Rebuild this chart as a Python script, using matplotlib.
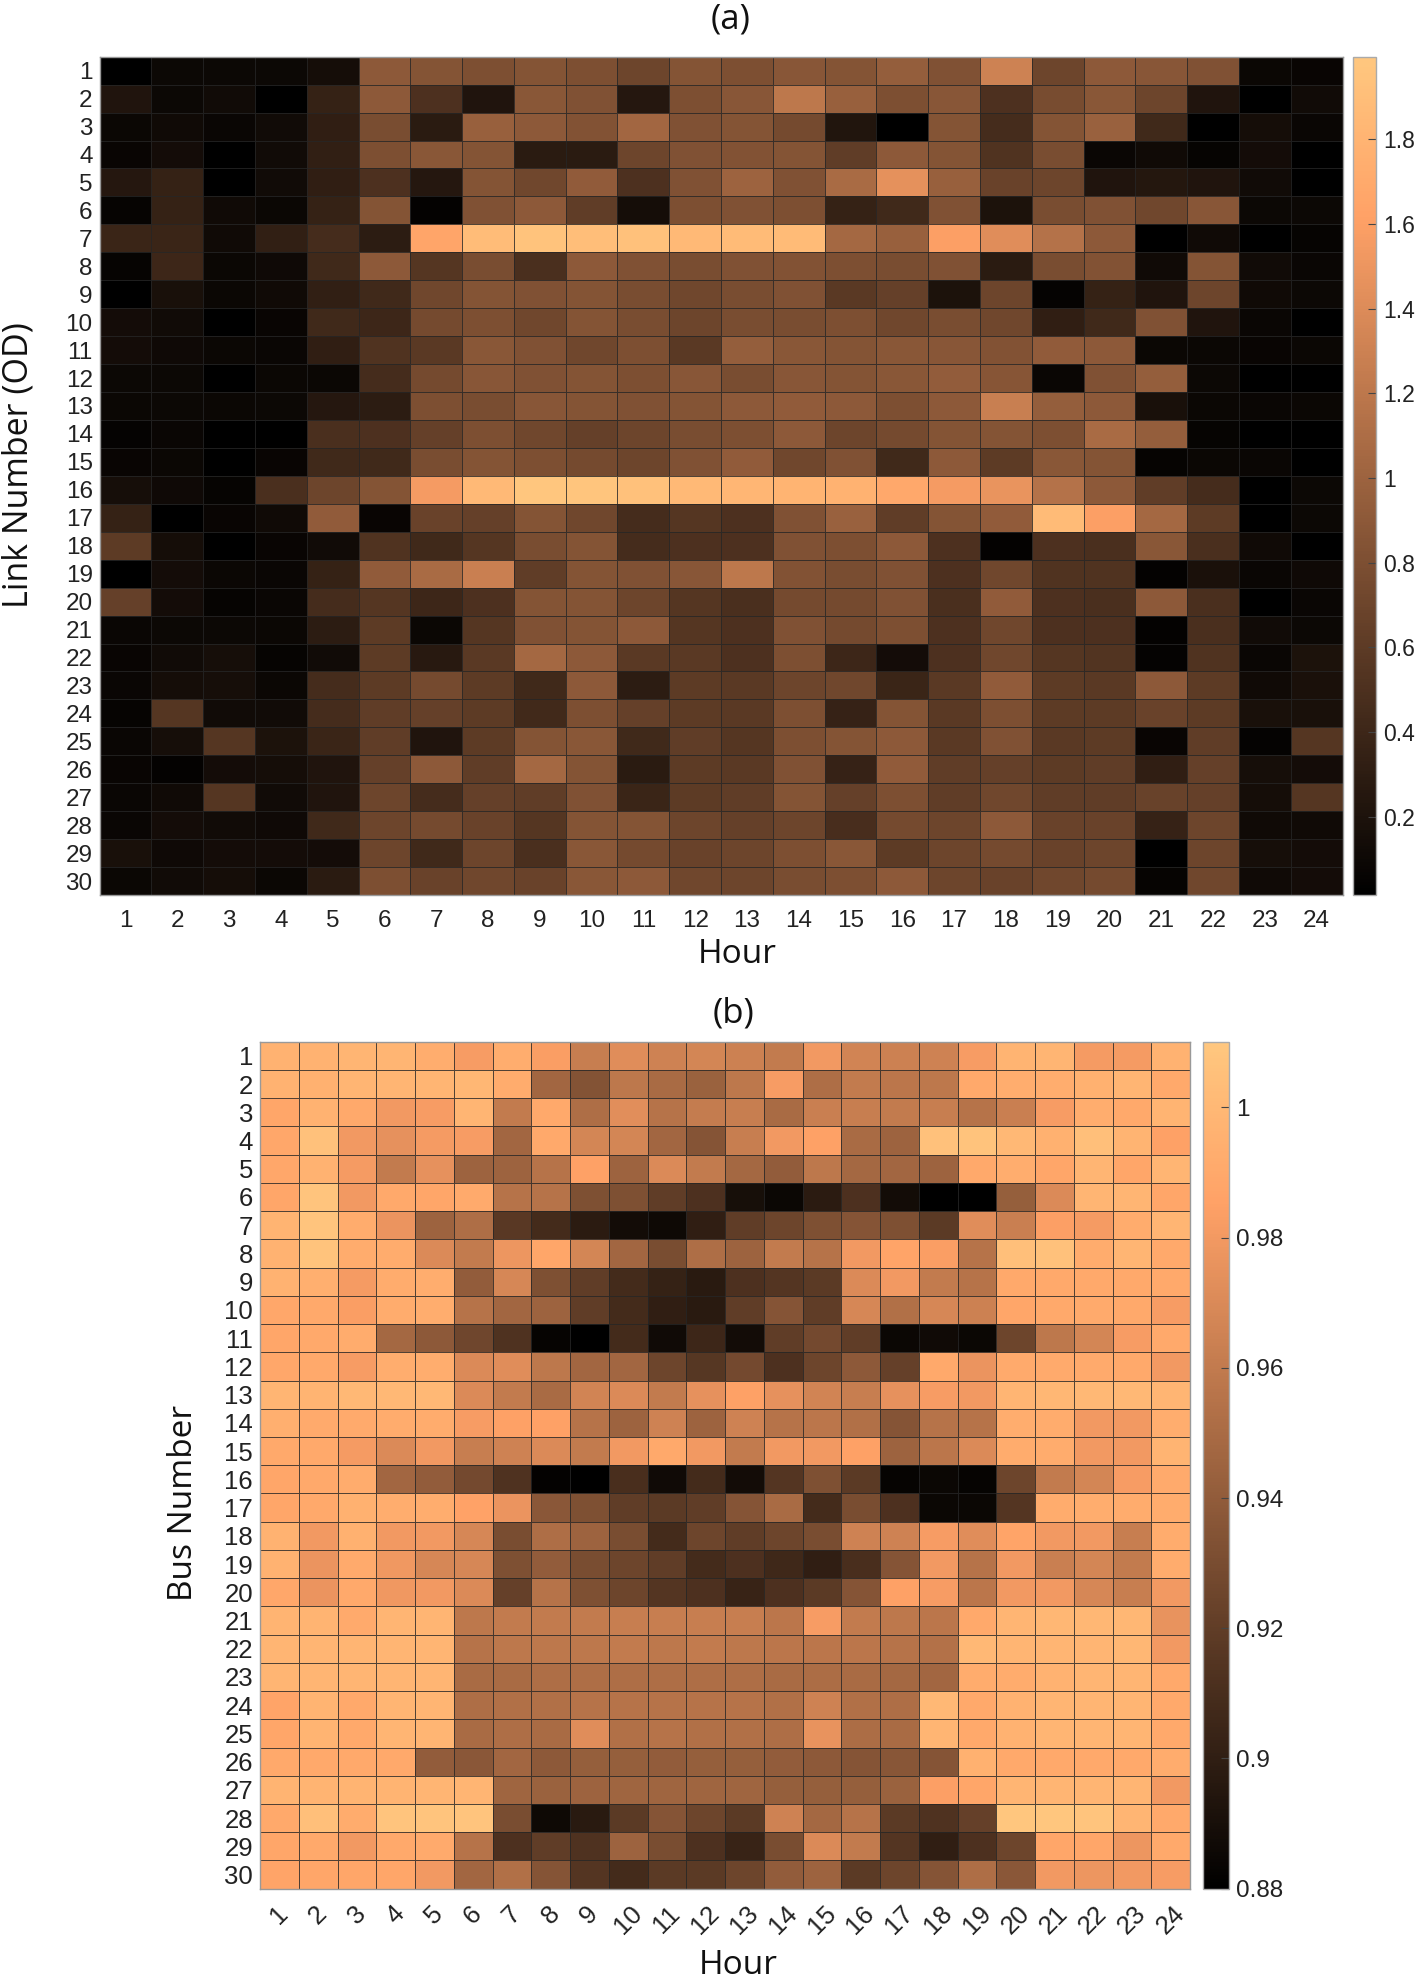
import numpy as np
import matplotlib
matplotlib.use("Agg")
import matplotlib.pyplot as plt

W, H = 1416, 1978

hours = [str(h) for h in range(1, 25)]
links = [str(i) for i in range(1, 31)]
buses = [str(i) for i in range(1, 31)]

# (a) link flow, one row per link number, 24 hours
link_flow = [
    [.02,.1,.1,.1,.15,.9,.85,.8,.85,.8,.7,.85,.8,.87,.85,.95,.82,1.3,.7,.9,.87,.82,.09,.07],
    [.22,.1,.13,.02,.35,.9,.5,.22,.88,.82,.25,.8,.87,1.2,.97,.8,.87,.5,.77,.88,.7,.22,.02,.13],
    [.09,.12,.08,.13,.32,.78,.28,.97,.9,.83,1.03,.82,.85,.75,.23,.02,.85,.45,.85,.98,.42,.02,.15,.08],
    [.07,.14,.02,.13,.33,.8,.88,.85,.28,.28,.7,.82,.83,.85,.62,.9,.85,.52,.78,.08,.12,.06,.14,.02],
    [.25,.35,.02,.13,.32,.5,.25,.85,.72,.92,.5,.82,1.0,.82,1.08,1.45,.97,.68,.7,.22,.24,.22,.13,.02],
    [.06,.35,.12,.09,.35,.85,.04,.82,.9,.62,.15,.8,.82,.8,.35,.42,.82,.2,.78,.82,.72,.87,.1,.1],
    [.38,.38,.12,.33,.45,.3,1.65,1.88,1.95,1.9,1.93,1.85,1.87,1.87,1.05,.97,1.6,1.42,1.15,.9,.02,.12,.02,.06],
    [.06,.4,.09,.11,.42,.9,.55,.78,.48,.9,.82,.78,.82,.83,.8,.78,.82,.28,.78,.83,.12,.85,.13,.08],
    [.02,.17,.09,.12,.33,.42,.72,.85,.82,.85,.78,.72,.78,.82,.58,.65,.2,.7,.05,.35,.22,.7,.12,.1],
    [.14,.13,.02,.07,.42,.4,.75,.8,.72,.85,.78,.7,.78,.78,.8,.72,.78,.72,.32,.42,.82,.22,.08,.02],
    [.14,.11,.09,.08,.32,.52,.58,.88,.82,.72,.8,.58,.95,.88,.85,.88,.87,.83,.92,.9,.09,.09,.07,.09],
    [.1,.1,.02,.09,.09,.45,.75,.87,.82,.85,.8,.87,.78,.87,.85,.88,.93,.86,.08,.82,.95,.1,.02,.02],
    [.09,.1,.09,.1,.25,.3,.8,.78,.87,.85,.82,.85,.9,.92,.9,.8,.9,1.27,.95,.9,.17,.09,.08,.09],
    [.05,.08,.02,.02,.48,.5,.65,.8,.72,.65,.7,.78,.8,.9,.7,.75,.85,.85,.8,1.08,.95,.06,.02,.02],
    [.07,.09,.02,.07,.42,.42,.78,.85,.8,.75,.7,.82,.92,.72,.82,.42,.9,.6,.88,.85,.06,.09,.08,.02],
    [.16,.11,.06,.48,.7,.85,1.55,1.85,1.98,1.97,1.93,1.85,1.82,1.8,1.78,1.68,1.55,1.48,1.15,.9,.62,.45,.02,.1],
    [.35,.02,.07,.12,.92,.07,.68,.65,.85,.72,.45,.55,.5,.82,.98,.62,.85,.92,1.87,1.6,1.05,.6,.02,.1],
    [.6,.15,.02,.07,.13,.52,.42,.55,.78,.85,.45,.5,.5,.82,.8,.9,.5,.04,.5,.48,.88,.48,.12,.02],
    [.02,.14,.09,.08,.35,.92,1.08,1.28,.62,.85,.82,.87,1.2,.83,.78,.82,.5,.72,.52,.52,.04,.18,.08,.11],
    [.65,.14,.06,.08,.45,.55,.4,.5,.85,.85,.7,.55,.48,.75,.75,.82,.48,.92,.5,.48,.9,.48,.02,.08],
    [.08,.1,.1,.09,.3,.6,.09,.55,.82,.85,.9,.55,.5,.82,.75,.8,.5,.72,.5,.5,.04,.48,.13,.1],
    [.07,.13,.16,.06,.13,.6,.27,.58,1.05,.9,.58,.58,.5,.8,.4,.14,.5,.72,.55,.53,.05,.52,.08,.2],
    [.08,.15,.16,.09,.45,.6,.75,.6,.42,.9,.3,.6,.58,.7,.72,.38,.58,.92,.6,.58,.9,.6,.12,.18],
    [.06,.55,.13,.13,.45,.62,.65,.6,.43,.8,.65,.6,.58,.8,.36,.85,.58,.8,.6,.6,.68,.6,.17,.17],
    [.08,.16,.55,.2,.38,.62,.22,.6,.85,.88,.42,.62,.55,.8,.85,.9,.58,.82,.58,.6,.07,.62,.05,.55],
    [.07,.04,.14,.15,.22,.65,.9,.62,1.05,.85,.28,.6,.58,.82,.36,.92,.62,.65,.6,.62,.32,.65,.16,.14],
    [.08,.12,.55,.13,.22,.7,.45,.65,.62,.82,.38,.6,.62,.85,.65,.8,.62,.72,.62,.62,.67,.65,.15,.55],
    [.08,.14,.13,.11,.42,.7,.75,.68,.55,.85,.85,.7,.65,.7,.47,.75,.7,.9,.68,.68,.36,.7,.12,.12],
    [.17,.11,.14,.14,.14,.7,.42,.7,.48,.88,.75,.68,.7,.8,.88,.6,.7,.75,.68,.7,.02,.7,.16,.14],
    [.09,.13,.15,.09,.28,.8,.68,.72,.68,.88,.9,.72,.7,.78,.8,.9,.7,.68,.72,.75,.06,.72,.12,.14],
]

# (b) bus voltage, one row per bus number, 24 hours
bus_voltage = [
    [.996,.996,.998,.998,.993,.982,.993,.983,.962,.972,.965,.967,.964,.96,.98,.966,.964,.965,.982,.997,.998,.981,.981,.996],
    [.996,.995,.998,.998,.998,.999,.992,.947,.934,.958,.95,.944,.958,.982,.952,.96,.957,.958,.99,.993,.993,.995,.998,.99],
    [.988,.996,.99,.98,.982,.998,.96,.99,.952,.973,.955,.961,.962,.95,.963,.962,.96,.962,.955,.963,.982,.993,.99,.997],
    [.989,1.006,.98,.975,.981,.982,.947,.99,.967,.967,.947,.935,.962,.98,.985,.95,.945,1.006,1.007,1.0,.995,1.005,.997,.985],
    [.989,.996,.981,.96,.975,.945,.945,.955,.985,.945,.97,.96,.948,.94,.958,.948,.947,.945,.99,.993,.988,.998,.988,.998],
    [.988,1.008,.98,.99,.988,.991,.955,.955,.932,.932,.92,.912,.89,.885,.898,.912,.888,.88,.88,.942,.97,.998,.998,.988],
    [.997,1.008,.992,.977,.945,.952,.917,.908,.898,.888,.886,.9,.92,.925,.932,.935,.932,.918,.972,.963,.984,.981,.992,.998],
    [.996,1.007,.992,.992,.97,.96,.978,.988,.967,.947,.93,.952,.945,.96,.955,.98,.987,.983,.955,1.005,1.006,.992,.998,.99],
    [.996,.994,.981,.992,.993,.94,.968,.932,.92,.908,.902,.897,.912,.915,.918,.97,.98,.96,.955,.99,.99,.99,.99,.99],
    [.989,.99,.983,.992,.993,.955,.947,.945,.92,.908,.9,.897,.92,.935,.92,.968,.953,.968,.964,.988,.99,.991,.99,.982],
    [.988,.99,.992,.948,.938,.926,.913,.883,.88,.908,.887,.905,.888,.92,.928,.92,.885,.887,.885,.925,.958,.967,.982,.99],
    [.989,.99,.982,.993,.993,.97,.972,.958,.947,.947,.925,.916,.928,.912,.925,.938,.922,.99,.977,.991,.991,.991,.99,.98],
    [.998,.997,1.0,1.0,1.0,.97,.96,.95,.966,.97,.96,.975,.985,.975,.966,.962,.975,.982,.98,.998,.999,1.0,1.0,.998],
    [.994,.991,.991,.992,.992,.982,.985,.985,.955,.945,.965,.945,.965,.955,.957,.953,.935,.955,.955,.993,.992,.98,.98,.993],
    [.99,.99,.981,.97,.98,.962,.965,.97,.96,.98,.99,.98,.96,.98,.98,.985,.945,.957,.97,.992,.992,.98,.98,.997],
    [.988,.99,.992,.947,.94,.928,.913,.882,.88,.91,.887,.908,.888,.915,.932,.918,.883,.885,.883,.925,.96,.967,.982,.991],
    [.988,.99,.995,.993,.993,.986,.977,.937,.932,.92,.918,.92,.935,.95,.908,.93,.912,.885,.885,.915,.992,.993,.992,.992],
    [.996,.98,.995,.98,.98,.968,.93,.952,.945,.93,.908,.925,.92,.925,.93,.965,.965,.982,.972,.987,.98,.98,.962,.992],
    [.996,.977,.991,.979,.968,.968,.932,.94,.93,.925,.92,.908,.912,.906,.9,.91,.935,.98,.955,.98,.963,.967,.96,.992],
    [.989,.977,.99,.979,.98,.97,.922,.955,.932,.925,.915,.912,.903,.912,.918,.935,.985,.982,.957,.98,.98,.968,.962,.98],
    [.997,.997,.991,.998,.998,.958,.96,.96,.96,.962,.962,.962,.962,.957,.982,.96,.958,.957,.99,.998,.999,.999,.999,.976],
    [.998,.998,.998,.998,.998,.955,.958,.958,.958,.96,.958,.96,.958,.957,.957,.957,.955,.954,1.0,.998,.998,.998,.999,.98],
    [.998,.998,.998,.998,.998,.95,.95,.952,.952,.952,.952,.952,.952,.95,.951,.95,.948,.947,.992,.992,.996,.998,.998,.99],
    [.987,.997,.99,.998,.998,.952,.953,.953,.955,.955,.955,.955,.955,.953,.965,.953,.952,1.0,.99,.996,.998,.998,.998,.99],
    [.988,.997,.99,.998,.998,.95,.952,.95,.972,.953,.955,.953,.953,.952,.976,.951,.95,.998,.99,.996,.998,.998,.998,.99],
    [.99,.99,.99,.99,.94,.937,.947,.938,.942,.942,.94,.942,.942,.94,.938,.935,.936,.935,.995,.99,.99,.99,.99,.992],
    [.997,.997,.997,.997,.998,.998,.946,.944,.945,.946,.946,.946,.946,.942,.942,.942,.944,.984,.988,.998,.998,.998,.998,.98],
    [.99,1.005,.992,1.008,1.008,1.008,.93,.886,.897,.918,.935,.925,.918,.965,.948,.955,.918,.913,.922,1.009,1.009,1.008,.998,.99],
    [.988,.99,.98,.99,.991,.955,.912,.92,.913,.945,.93,.912,.903,.93,.97,.96,.915,.9,.912,.925,.988,.988,.978,.99],
    [.987,.988,.988,.988,.98,.947,.953,.935,.915,.908,.918,.918,.925,.94,.945,.918,.925,.935,.952,.937,.98,.978,.98,.982],
]

cbar_ticks_a = [0.2, 0.4, 0.6, 0.8, 1, 1.2, 1.4, 1.6, 1.8]
cbar_labels_a = ["0.2", "0.4", "0.6", "0.8", "1", "1.2", "1.4", "1.6", "1.8"]
cbar_ticks_b = [0.88, 0.9, 0.92, 0.94, 0.96, 0.98, 1]
cbar_labels_b = ["0.88", "0.9", "0.92", "0.94", "0.96", "0.98", "1"]

PLAIN = ["Liberation Sans"]
TITLE = ["Open Sans"]


# Axes from pixel box in the figure (y measured from the top)
def box(fig, left, top, right, bottom):
    return fig.add_axes([left / W, 1 - bottom / H, (right - left) / W, (bottom - top) / H])


def heat(fig, data, rows, pos, cpos, vmin, vmax, ticks, tick_labels, ysize, csize):
    ax = box(fig, *pos)
    m = ax.pcolormesh(
        np.array(data), cmap="copper", vmin=vmin, vmax=vmax,
        edgecolors=(0.15, 0.15, 0.15, 0.8), linewidth=0.4,
    )
    ax.invert_yaxis()
    ax.set_xticks(np.arange(24) + 0.5, hours)
    ax.set_yticks(np.arange(30) + 0.5, rows, fontsize=ysize, family=PLAIN, color="#222222")
    ax.tick_params(length=0)
    ax.tick_params(axis="y", pad=5)
    for s in ax.spines.values():
        s.set_color("#999999")
        s.set_linewidth(1.0)

    cax = box(fig, *cpos)
    cb = fig.colorbar(m, cax=cax)
    cb.set_ticks(ticks, labels=tick_labels)
    cax.tick_params(direction="in", length=6, width=0.8, color="#444444", labelcolor="#222222", pad=5)
    for t in cax.get_yticklabels():
        t.set_fontsize(csize)
        t.set_family(PLAIN)
    cb.outline.set_edgecolor("#aaaaaa")
    cb.outline.set_linewidth(1.0)
    return ax


def label(fig, x, y, s, size, rotation=0):
    fig.text(x / W, 1 - y / H, s, fontsize=size, family=TITLE, rotation=rotation,
             ha="center", va="center", color="#111111")


fig = plt.figure(figsize=(W / 100, H / 100), dpi=100)

ax_a = heat(fig, link_flow, links, (99.6, 56.7, 1342.5, 895), (1353, 56.7, 1376, 895),
            0.015, 1.995, cbar_ticks_a, cbar_labels_a, 17.5, 16.5)
ax_a.tick_params(axis="x", labelsize=17.5, pad=11, labelcolor="#222222")
for t in ax_a.get_xticklabels():
    t.set_family(PLAIN)

ax_b = heat(fig, bus_voltage, buses, (260, 1041.7, 1190, 1888.7), (1202.6, 1041.7, 1229, 1888.7),
            0.88, 1.0101, cbar_ticks_b, cbar_labels_b, 18.5, 17.5)
ax_b.tick_params(axis="x", labelsize=18.5, pad=9, labelcolor="#222222")
for t in ax_b.get_xticklabels():
    t.set_family(PLAIN)
    t.set_rotation(45)
    t.set_ha("center")

label(fig, 731, 19, "(a)", 25)
label(fig, 733, 1013, "(b)", 25)
label(fig, 19, 465, "Link Number (OD)", 24.5, rotation=90)
label(fig, 184, 1503, "Bus Number", 24, rotation=90)
label(fig, 737, 955, "Hour", 24)
label(fig, 738, 1965, "Hour", 24)

fig.savefig("out.png", dpi=100)
